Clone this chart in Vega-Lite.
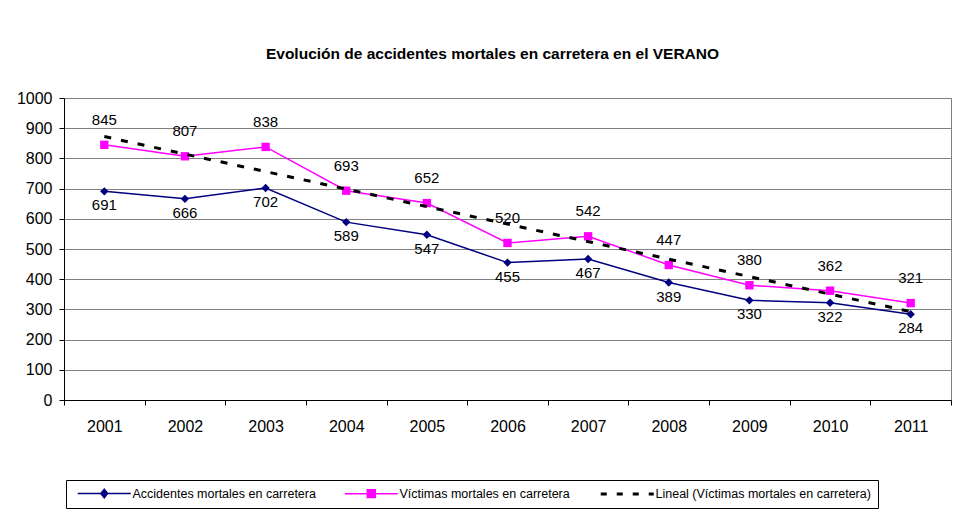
{
  "$schema": "https://vega.github.io/schema/vega-lite/v6.json",
  "width": 887,
  "height": 302,
  "autosize": "none",
  "padding": {"left": 64, "top": 98, "right": 15, "bottom": 127},
  "background": "#ffffff",
  "config": {
    "view": {"stroke": "#808080", "strokeWidth": 1},
    "font": "Liberation Sans"
  },
  "title": {
    "text": "Evolución de accidentes mortales en carretera en el VERANO",
    "font": "Liberation Sans",
    "fontSize": 15.5,
    "fontWeight": "bold",
    "color": "#000000",
    "offset": 28,
    "dx": -15
  },
  "data": {
    "values": [
      {"year": 2001, "serie": "Accidentes mortales en carretera", "value": 691},
      {"year": 2002, "serie": "Accidentes mortales en carretera", "value": 666},
      {"year": 2003, "serie": "Accidentes mortales en carretera", "value": 702},
      {"year": 2004, "serie": "Accidentes mortales en carretera", "value": 589},
      {"year": 2005, "serie": "Accidentes mortales en carretera", "value": 547},
      {"year": 2006, "serie": "Accidentes mortales en carretera", "value": 455},
      {"year": 2007, "serie": "Accidentes mortales en carretera", "value": 467},
      {"year": 2008, "serie": "Accidentes mortales en carretera", "value": 389},
      {"year": 2009, "serie": "Accidentes mortales en carretera", "value": 330},
      {"year": 2010, "serie": "Accidentes mortales en carretera", "value": 322},
      {"year": 2011, "serie": "Accidentes mortales en carretera", "value": 284},
      {"year": 2001, "serie": "Víctimas mortales en carretera", "value": 845},
      {"year": 2002, "serie": "Víctimas mortales en carretera", "value": 807},
      {"year": 2003, "serie": "Víctimas mortales en carretera", "value": 838},
      {"year": 2004, "serie": "Víctimas mortales en carretera", "value": 693},
      {"year": 2005, "serie": "Víctimas mortales en carretera", "value": 652},
      {"year": 2006, "serie": "Víctimas mortales en carretera", "value": 520},
      {"year": 2007, "serie": "Víctimas mortales en carretera", "value": 542},
      {"year": 2008, "serie": "Víctimas mortales en carretera", "value": 447},
      {"year": 2009, "serie": "Víctimas mortales en carretera", "value": 380},
      {"year": 2010, "serie": "Víctimas mortales en carretera", "value": 362},
      {"year": 2011, "serie": "Víctimas mortales en carretera", "value": 321}
    ]
  },
  "encoding": {
    "x": {
      "field": "year",
      "type": "ordinal",
      "scale": {"type": "band", "paddingInner": 0, "paddingOuter": 0},
      "axis": {
        "title": null,
        "labelAngle": 0,
        "tickBand": "extent",
        "domainColor": "#000000",
        "tickColor": "#000000",
        "tickSize": 5,
        "labelFont": "Liberation Sans",
        "labelFontSize": 16,
        "labelColor": "#000000",
        "labelPadding": 13,
        "grid": false
      }
    },
    "y": {
      "field": "value",
      "type": "quantitative",
      "scale": {"domain": [0, 1000], "nice": false},
      "axis": {
        "title": null,
        "format": "d",
        "values": [0, 100, 200, 300, 400, 500, 600, 700, 800, 900, 1000],
        "domainColor": "#000000",
        "tickColor": "#000000",
        "tickSize": 5,
        "labelFont": "Liberation Sans",
        "labelFontSize": 16,
        "labelColor": "#000000",
        "labelPadding": 7,
        "grid": true,
        "gridColor": "#808080",
        "gridWidth": 1
      }
    }
  },
  "layer": [
    {
      "mark": {"type": "line", "strokeWidth": 1.5},
      "encoding": {
        "color": {
          "field": "serie",
          "type": "nominal",
          "scale": {
            "domain": ["Accidentes mortales en carretera", "Víctimas mortales en carretera", "Lineal (Víctimas mortales en carretera)"],
            "range": ["#000080", "#FF00FF", "#000000"]
          },
          "legend": {
            "orient": "none",
            "legendX": 2,
            "legendY": 382,
            "direction": "horizontal",
            "title": null,
            "strokeColor": "#000000",
            "padding": 7,
            "labelFont": "Liberation Sans",
            "labelFontSize": 12.5,
            "labelColor": "#000000",
            "labelLimit": 400,
            "labelOffset": 22,
            "symbolOffset": 25,
            "columnPadding": 24,
            "symbolSize": 2809,
            "symbolType": "M-1,0H1",
            "symbolStrokeWidth": 1.5,
            "encode": {
              "symbols": {
                "update": {
                  "shape": {"signal": "datum.value == 'Accidentes mortales en carretera' ? 'M-1,0H1M-0.13,0L0,-0.16L0.13,0L0,0.16Z' : (datum.value == 'Víctimas mortales en carretera' ? 'M-1,0H1M-0.15,-0.15H0.15V0.15H-0.15Z' : 'M-1,0H1')"},
                  "fill": {"scale": "color", "field": "value"},
                  "stroke": {"scale": "color", "field": "value"},
                  "strokeWidth": {"signal": "datum.value == 'Lineal (Víctimas mortales en carretera)' ? 3 : 1.5"},
                  "strokeDash": {"signal": "datum.value == 'Lineal (Víctimas mortales en carretera)' ? [6, 10] : [1, 0]"},
                  "opacity": {"value": 1}
                }
              }
            }
          }
        }
      }
    },
    {
      "mark": {"type": "point", "filled": true, "opacity": 1, "size": 70},
      "encoding": {
        "color": {"field": "serie", "type": "nominal"},
        "shape": {
          "field": "serie",
          "type": "nominal",
          "scale": {
            "domain": ["Accidentes mortales en carretera", "Víctimas mortales en carretera"],
            "range": ["diamond", "square"]
          },
          "legend": null
        }
      }
    },
    {
      "transform": [
        {"filter": "datum.serie == 'Víctimas mortales en carretera'"},
        {"regression": "value", "on": "year"}
      ],
      "mark": {"type": "line", "strokeWidth": 3, "strokeDash": [7, 10]},
      "encoding": {
        "color": {"datum": "Lineal (Víctimas mortales en carretera)"}
      }
    },
    {
      "transform": [{"filter": "datum.serie == 'Víctimas mortales en carretera'"}],
      "mark": {"type": "text", "font": "Liberation Sans", "fontSize": 15, "color": "#000000", "dy": -25, "baseline": "middle"},
      "encoding": {"text": {"field": "value", "type": "quantitative"}}
    },
    {
      "transform": [{"filter": "datum.serie == 'Accidentes mortales en carretera'"}],
      "mark": {"type": "text", "font": "Liberation Sans", "fontSize": 15, "color": "#000000", "dy": 14, "baseline": "middle"},
      "encoding": {"text": {"field": "value", "type": "quantitative"}}
    }
  ]
}
